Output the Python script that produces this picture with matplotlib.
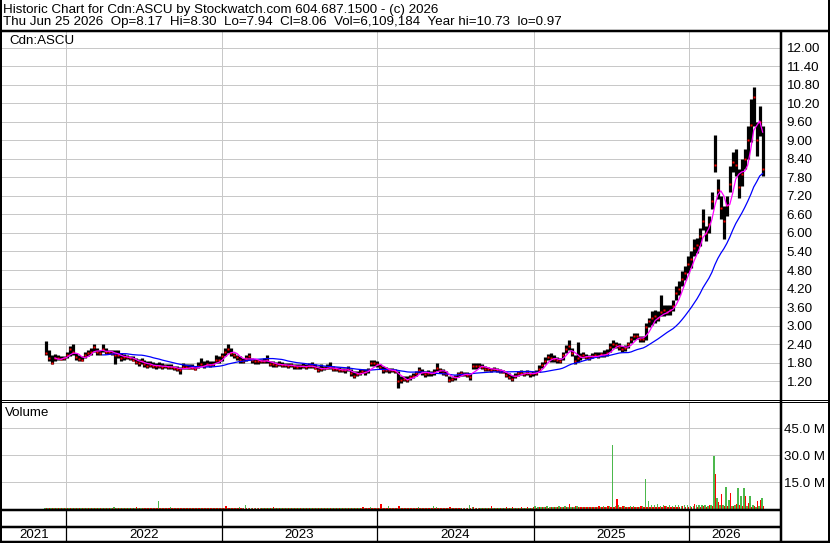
import matplotlib
matplotlib.use('Agg')
import matplotlib.pyplot as plt
from matplotlib.lines import Line2D
import pandas as pd

# weekly bars
week_start = '2021-11-15'

high = [
    2.49, 2.22, 2.06, 2.09, 2.06, 2.02, 2.02, 2.16, 2.33, 2.40,
    2.11, 2.06, 2.00, 2.16, 2.22, 2.27, 2.40, 2.27, 2.22, 2.40,
    2.27, 2.22, 2.22, 2.22, 2.20, 2.11, 2.09, 2.06, 2.02, 2.00,
    1.95, 1.92, 1.95, 1.90, 1.84, 1.84, 1.81, 1.79, 1.81, 1.79,
    1.77, 1.74, 1.74, 1.70, 1.68, 1.66, 1.79, 1.74, 1.74, 1.74,
    1.70, 1.81, 1.95, 1.84, 1.88, 1.84, 1.84, 2.06, 2.02, 2.11,
    2.27, 2.40, 2.27, 2.11, 2.06, 2.00, 1.95, 2.06, 2.11, 1.95,
    1.92, 1.92, 1.92, 1.95, 2.06, 1.84, 1.84, 1.81, 1.84, 1.81,
    1.79, 1.79, 1.79, 1.77, 1.74, 1.77, 1.79, 1.77, 1.79, 1.81,
    1.74, 1.68, 1.74, 1.70, 1.74, 1.81, 1.68, 1.66, 1.66, 1.63,
    1.63, 1.68, 1.58, 1.52, 1.52, 1.58, 1.60, 1.60, 1.63, 1.90,
    1.88, 1.84, 1.74, 1.68, 1.66, 1.63, 1.63, 1.60, 1.52, 1.36,
    1.36, 1.36, 1.41, 1.47, 1.52, 1.65, 1.60, 1.52, 1.55, 1.52,
    1.60, 1.79, 1.63, 1.58, 1.52, 1.36, 1.34, 1.41, 1.49, 1.52,
    1.49, 1.49, 1.47, 1.79, 1.79, 1.79, 1.74, 1.68, 1.66, 1.63,
    1.66, 1.63, 1.58, 1.56, 1.51, 1.45, 1.40, 1.47, 1.54, 1.56,
    1.51, 1.56, 1.51, 1.53, 1.56, 1.72, 1.83, 1.99, 2.08, 2.10,
    2.05, 1.99, 1.94, 2.16, 2.37, 2.54, 2.27, 2.05, 2.46, 2.10,
    2.16, 2.08, 2.05, 2.10, 2.16, 2.13, 2.16, 2.21, 2.23, 2.43,
    2.54, 2.48, 2.43, 2.34, 2.37, 2.48, 2.67, 2.75, 2.75, 2.65,
    2.65, 3.08, 3.24, 3.46, 3.52, 3.46, 4.00, 3.68, 3.68, 3.68,
    3.84, 4.27, 4.44, 4.76, 4.92, 5.25, 5.41, 5.79, 5.84, 6.17,
    6.76, 6.22, 6.55, 7.31, 9.17, 7.74, 7.20, 6.87, 7.20, 8.17,
    8.61, 8.71, 8.06, 8.39, 8.71, 9.47, 10.34, 10.73, 9.58, 10.12,
    9.47,
]

low = [
    2.06, 1.85, 1.74, 1.85, 1.90, 1.88, 1.90, 1.95, 2.00, 2.06,
    1.90, 1.85, 1.85, 1.95, 2.00, 2.06, 2.16, 2.06, 2.06, 2.16,
    2.09, 2.09, 2.06, 1.74, 1.95, 1.85, 1.90, 1.92, 1.88, 1.85,
    1.74, 1.68, 1.74, 1.66, 1.63, 1.66, 1.63, 1.60, 1.63, 1.60,
    1.63, 1.58, 1.60, 1.55, 1.52, 1.44, 1.60, 1.60, 1.58, 1.58,
    1.55, 1.63, 1.68, 1.63, 1.68, 1.66, 1.68, 1.79, 1.79, 1.85,
    2.00, 2.11, 2.00, 1.95, 1.90, 1.79, 1.79, 1.85, 1.90, 1.79,
    1.77, 1.77, 1.79, 1.79, 1.79, 1.68, 1.66, 1.66, 1.68, 1.66,
    1.66, 1.63, 1.66, 1.60, 1.58, 1.60, 1.63, 1.60, 1.63, 1.63,
    1.58, 1.49, 1.52, 1.55, 1.58, 1.60, 1.52, 1.52, 1.49, 1.49,
    1.47, 1.52, 1.36, 1.31, 1.36, 1.41, 1.45, 1.41, 1.47, 1.68,
    1.70, 1.66, 1.58, 1.47, 1.49, 1.47, 1.49, 1.45, 0.97, 1.15,
    1.20, 1.17, 1.25, 1.31, 1.36, 1.47, 1.41, 1.34, 1.38, 1.36,
    1.41, 1.52, 1.47, 1.41, 1.36, 1.17, 1.20, 1.25, 1.34, 1.36,
    1.36, 1.34, 1.23, 1.58, 1.60, 1.63, 1.58, 1.52, 1.52, 1.49,
    1.52, 1.49, 1.45, 1.45, 1.32, 1.26, 1.21, 1.29, 1.36, 1.40,
    1.36, 1.40, 1.34, 1.36, 1.40, 1.51, 1.62, 1.76, 1.89, 1.83,
    1.83, 1.78, 1.78, 1.89, 2.10, 2.21, 2.00, 1.76, 1.83, 1.89,
    1.94, 1.91, 1.89, 1.94, 1.97, 1.94, 1.99, 1.99, 2.02, 2.16,
    2.27, 2.27, 2.21, 2.16, 2.19, 2.27, 2.43, 2.54, 2.56, 2.48,
    2.48, 2.54, 2.97, 3.03, 3.08, 3.14, 3.30, 3.30, 3.35, 3.35,
    3.46, 3.84, 4.00, 4.27, 4.49, 4.71, 4.87, 5.25, 5.36, 5.57,
    6.11, 5.74, 6.01, 6.76, 7.96, 7.09, 6.44, 5.81, 6.55, 7.31,
    7.96, 7.85, 7.14, 7.52, 8.06, 8.39, 8.93, 9.47, 8.50, 9.15,
    7.85,
]

close = [
    2.10, 1.95, 1.80, 1.95, 1.95, 1.93, 1.95, 2.05, 2.25, 2.15,
    1.98, 1.92, 1.90, 2.05, 2.10, 2.15, 2.30, 2.15, 2.12, 2.25,
    2.15, 2.15, 2.12, 2.05, 2.05, 1.95, 1.98, 1.98, 1.95, 1.90,
    1.82, 1.78, 1.85, 1.75, 1.70, 1.72, 1.70, 1.70, 1.68, 1.66,
    1.68, 1.65, 1.66, 1.62, 1.58, 1.55, 1.66, 1.65, 1.63, 1.62,
    1.60, 1.68, 1.75, 1.70, 1.75, 1.72, 1.75, 1.90, 1.88, 2.00,
    2.15, 2.25, 2.10, 2.05, 1.98, 1.88, 1.85, 1.95, 2.00, 1.88,
    1.85, 1.85, 1.85, 1.85, 1.88, 1.75, 1.74, 1.73, 1.75, 1.72,
    1.72, 1.70, 1.72, 1.68, 1.65, 1.68, 1.70, 1.66, 1.70, 1.68,
    1.63, 1.55, 1.60, 1.62, 1.64, 1.66, 1.58, 1.58, 1.56, 1.56,
    1.55, 1.60, 1.45, 1.38, 1.42, 1.48, 1.52, 1.50, 1.55, 1.80,
    1.78, 1.75, 1.65, 1.55, 1.56, 1.55, 1.55, 1.52, 1.20, 1.25,
    1.28, 1.25, 1.32, 1.38, 1.45, 1.55, 1.50, 1.42, 1.45, 1.45,
    1.50, 1.62, 1.55, 1.48, 1.42, 1.25, 1.27, 1.32, 1.42, 1.45,
    1.42, 1.40, 1.35, 1.70, 1.68, 1.70, 1.65, 1.60, 1.60, 1.56,
    1.60, 1.56, 1.52, 1.50, 1.40, 1.35, 1.28, 1.38, 1.45, 1.48,
    1.42, 1.48, 1.42, 1.45, 1.48, 1.60, 1.72, 1.85, 1.98, 1.95,
    1.92, 1.88, 1.85, 2.05, 2.25, 2.35, 2.10, 1.85, 1.95, 2.00,
    2.05, 1.98, 1.96, 2.00, 2.05, 2.02, 2.08, 2.05, 2.12, 2.30,
    2.40, 2.38, 2.30, 2.25, 2.28, 2.40, 2.55, 2.65, 2.65, 2.55,
    2.55, 2.95, 3.15, 3.25, 3.30, 3.25, 3.45, 3.50, 3.45, 3.52,
    3.65, 4.05, 4.20, 4.50, 4.70, 5.00, 5.15, 5.50, 5.60, 5.90,
    6.40, 6.00, 6.30, 7.05, 8.20, 7.40, 6.80, 6.40, 6.90, 7.60,
    8.30, 8.20, 7.50, 7.90, 8.40, 9.00, 9.50, 10.40, 9.00, 9.60,
    8.06,
]

# volume in millions: up days (green) and down days (red)
vol_up = [
    0.5, 0.6, 0.5, 0.6, 0.5, 0.6, 0.5, 0.5, 0.7, 0.6,
    0.5, 0.5, 0.6, 0.5, 0.6, 0.5, 0.7, 0.5, 0.5, 0.6,
    0.5, 0.6, 0.5, 1.0, 0.5, 0.6, 0.5, 0.5, 0.6, 0.5,
    0.5, 0.6, 0.5, 0.5, 0.6, 0.5, 0.5, 0.6, 4.6, 0.5,
    0.6, 0.5, 1.0, 0.5, 0.6, 0.5, 0.6, 0.5, 0.5, 0.6,
    0.5, 0.6, 0.5, 0.5, 0.6, 0.5, 0.6, 0.7, 0.5, 0.8,
    0.9, 0.7, 0.5, 0.6, 0.5, 1.2, 0.6, 2.4, 0.6, 0.5,
    0.6, 0.5, 0.5, 0.6, 0.7, 0.5, 0.6, 0.5, 0.5, 0.6,
    0.5, 0.5, 0.6, 0.5, 0.5, 0.6, 0.5, 0.5, 0.6, 0.5,
    0.5, 0.6, 0.5, 0.5, 0.6, 0.5, 0.5, 0.6, 0.5, 0.5,
    0.6, 0.5, 0.5, 0.6, 0.5, 0.5, 0.6, 0.5, 0.6, 1.0,
    0.8, 0.6, 0.7, 0.8, 0.9, 1.8, 0.8, 0.7, 0.9, 0.8,
    0.7, 0.8, 0.7, 0.9, 0.8, 1.0, 0.8, 0.7, 0.8, 0.9,
    1.8, 1.2, 0.8, 0.7, 0.8, 0.7, 0.8, 0.9, 0.7, 0.8,
    0.8, 0.9, 2.4, 1.0, 0.9, 0.8, 0.9, 0.8, 0.8, 0.9,
    0.8, 0.9, 0.8, 0.8, 0.9, 0.8, 0.7, 0.8, 0.9, 0.8,
    0.9, 0.8, 0.9, 0.8, 1.8, 1.2, 1.4, 1.5, 1.8, 1.3,
    1.2, 1.4, 1.8, 1.5, 1.6, 1.4, 1.2, 1.3, 1.8, 1.4,
    1.5, 1.3, 1.4, 1.2, 1.5, 1.3, 1.4, 1.6, 1.5, 1.6,
    35.7, 1.8, 2.6, 1.5, 1.6, 1.4, 1.6, 1.8, 1.5, 1.4,
    1.6, 16.6, 4.5, 2.4, 2.4, 2.9, 2.0, 2.4, 1.8, 2.4,
    2.0, 2.4, 2.2, 2.0, 2.4, 2.2, 1.8, 2.0, 2.4, 2.2,
    2.4, 2.2, 2.0, 2.4, 29.6, 6.0, 2.5, 2.2, 12.6, 5.4,
    2.0, 2.4, 11.7, 7.4, 11.7, 2.0, 7.4, 2.2, 1.5, 2.0,
    6.0,
]

vol_dn = [
    0.7, 0.9, 0.7, 0.6, 0.7, 0.6, 0.7, 0.6, 0.7, 0.6,
    0.7, 0.6, 0.7, 0.6, 0.7, 0.6, 0.6, 0.7, 0.6, 0.7,
    0.6, 0.7, 0.6, 0.8, 0.7, 0.6, 0.7, 0.6, 0.7, 0.6,
    1.0, 0.7, 0.6, 0.7, 0.6, 0.7, 0.6, 0.7, 0.6, 0.7,
    0.6, 0.7, 0.6, 0.7, 0.6, 0.7, 0.6, 0.7, 0.6, 0.7,
    0.6, 0.7, 0.6, 0.7, 0.6, 0.7, 0.6, 0.7, 0.6, 0.7,
    1.8, 0.8, 0.7, 0.6, 0.7, 0.6, 0.7, 0.6, 0.7, 0.6,
    0.7, 0.6, 0.7, 0.6, 0.7, 0.6, 1.2, 0.6, 0.7, 0.6,
    0.7, 0.6, 0.7, 0.6, 0.7, 0.6, 0.7, 0.6, 0.7, 0.6,
    0.7, 0.6, 0.7, 0.6, 0.7, 0.6, 0.7, 0.6, 0.7, 0.6,
    0.7, 0.6, 0.7, 0.6, 0.7, 0.6, 1.2, 0.6, 0.7, 0.6,
    0.7, 0.8, 2.9, 0.8, 0.9, 0.7, 0.8, 0.7, 1.8, 0.9,
    0.8, 0.7, 0.8, 0.7, 0.8, 0.7, 0.8, 0.9, 0.8, 0.7,
    0.8, 0.9, 0.8, 0.7, 0.8, 1.0, 0.9, 0.8, 0.7, 0.8,
    0.9, 0.8, 0.9, 1.0, 0.8, 0.9, 0.8, 0.9, 0.8, 1.8,
    0.9, 0.8, 0.9, 0.8, 1.0, 0.9, 1.0, 0.9, 0.8, 1.4,
    0.9, 1.0, 0.9, 1.0, 0.9, 1.0, 1.1, 1.0, 0.9, 1.0,
    1.1, 1.0, 1.1, 1.0, 1.1, 2.9, 1.2, 1.8, 1.0, 1.1,
    1.0, 1.1, 1.0, 1.1, 1.0, 1.8, 1.1, 1.0, 1.8, 1.1,
    1.2, 5.8, 1.4, 1.8, 1.2, 1.3, 1.2, 1.4, 1.3, 1.8,
    1.2, 1.4, 1.3, 1.4, 1.3, 1.2, 1.4, 1.6, 1.3, 1.4,
    1.5, 1.3, 1.4, 1.6, 1.3, 1.5, 1.4, 2.9, 1.5, 1.4,
    1.6, 1.5, 2.2, 1.8, 19.6, 4.1, 8.5, 1.8, 1.6, 9.2,
    1.8, 3.0, 2.2, 1.6, 7.4, 3.6, 1.5, 1.8, 4.8, 5.2,
    2.0,
]

years = ['2021', '2022', '2023', '2024', '2025', '2026']
price_ticks = [1.20, 1.80, 2.40, 3.00, 3.60, 4.20, 4.80, 5.40, 6.00, 6.60,
               7.20, 7.80, 8.40, 9.00, 9.60, 10.20, 10.80, 11.40, 12.00]
vol_ticks = [15, 30, 45]

title1 = 'Historic Chart for Cdn:ASCU by Stockwatch.com 604.687.1500 - (c) 2026'
title2 = ('Thu Jun 25 2026  Op=8.17  Hi=8.30  Lo=7.94  Cl=8.06  '
          'Vol=6,109,184  Year hi=10.73  lo=0.97')

dates = pd.date_range(week_start, periods=len(close), freq='7D')
close_s = pd.Series(close, index=dates)
ma_fast = close_s.rolling(4).mean()
ma_slow = close_s.rolling(20).mean()

plt.rcParams['font.family'] = ['Liberation Sans', 'DejaVu Sans']
FS = 9.6
W, H = 830, 543
fig = plt.figure(figsize=(W / 100, H / 100), dpi=100)
fig.patch.set_facecolor('white')


def px_box(x0, y0, x1, y1):
    return [x0 / W, 1 - y1 / H, (x1 - x0) / W, (y1 - y0) / H]


def line(x0, y0, x1, y1, lw=1.0):
    fig.add_artist(Line2D([x0 / W, x1 / W], [1 - y0 / H, 1 - y1 / H],
                          transform=fig.transFigure, color='black',
                          lw=lw * 0.72, solid_capstyle='butt'))


xmin = pd.Timestamp('2021-08-04')
xmax = pd.Timestamp('2026-08-04')
year_starts = [pd.Timestamp(f'{y}-01-01') for y in years[1:]]
grid_kw = dict(color='#c8c8c8', lw=0.72)

# price panel
ax_p = fig.add_axes(px_box(2, 31, 781, 400))
ax_p.set_xlim(xmin, xmax)
ax_p.set_ylim(0.59, 12.54)
ax_p.set_yticks(price_ticks)
ax_p.set_yticklabels([f'{t:.2f}' for t in price_ticks])
ax_p.yaxis.tick_right()
ax_p.set_xticks(year_starts)
ax_p.set_xticklabels([])
ax_p.tick_params(length=0, labelsize=FS, pad=4.0)
ax_p.grid(True, **grid_kw)
ax_p.set_axisbelow(True)
for s in ax_p.spines.values():
    s.set_visible(False)

ax_p.vlines(dates, low, high, color='black', lw=2.3, zorder=2)
ax_p.plot(dates, close, ls='none', marker='s', ms=1.5, color='red',
          mec='none', zorder=3)
ax_p.plot(dates, ma_slow, color='#0000ff', lw=0.9, zorder=4)
ax_p.plot(dates, ma_fast, color='#ff00ff', lw=0.9, zorder=5)
ax_p.text(9, H - 41, 'Cdn:ASCU', transform=None, fontsize=FS, va='center')

# volume panel
ax_v = fig.add_axes(px_box(2, 402, 781, 509.3))
ax_v.set_xlim(xmin, xmax)
ax_v.set_ylim(0, 59.6)
ax_v.set_yticks(vol_ticks)
ax_v.set_yticklabels([f'{t:.1f} M' for t in vol_ticks])
ax_v.yaxis.tick_right()
ax_v.set_xticks(year_starts)
ax_v.set_xticklabels([])
ax_v.tick_params(length=0, labelsize=FS, pad=2.0)
ax_v.grid(True, **grid_kw)
ax_v.set_axisbelow(True)
for s in ax_v.spines.values():
    s.set_visible(False)
shift = pd.Timedelta(days=1.7)
ax_v.bar(dates - shift, vol_up, width=3.4, color='#4cb84c', zorder=2)
ax_v.bar(dates + shift, vol_dn, width=3.4, color='#ff0000', zorder=2)
ax_v.text(5, H - 413, 'Volume', transform=None, fontsize=FS, va='center')

# date rows
ax_d = fig.add_axes(px_box(2, 510, 781, 542))
ax_d.set_xlim(xmin, xmax)
ax_d.set_ylim(0, 1)
ax_d.axis('off')
ax_d.vlines(year_starts, 0, 1, color='black', lw=0.9)
edges = [xmin] + year_starts + [dates[-1]]
for k, y in enumerate(years):
    mid = edges[k] + (edges[k + 1] - edges[k]) / 2
    ax_d.text(mid, 0.22, y, fontsize=FS, ha='center', va='center')

# frame
line(0, 31, W, 31, 2.5)
line(0, 399.5, W, 399.5, 1)
line(0, 402.3, W, 402.3, 1)
line(0, 510, 781, 510, 2.5)
line(0, 527, 781, 527, 2.5)
line(0, 541.8, W, 541.8, 2.5)
line(781, 31, 781, H, 2.5)
line(1, 0, 1, H, 2)
line(829, 0, 829, H, 2)

fig.text(3 / W, 1 - 10 / H, title1, fontsize=FS, va='center')
fig.text(3 / W, 1 - 22 / H, title2, fontsize=FS, va='center')

fig.savefig('out.png', dpi=100, facecolor='white')
